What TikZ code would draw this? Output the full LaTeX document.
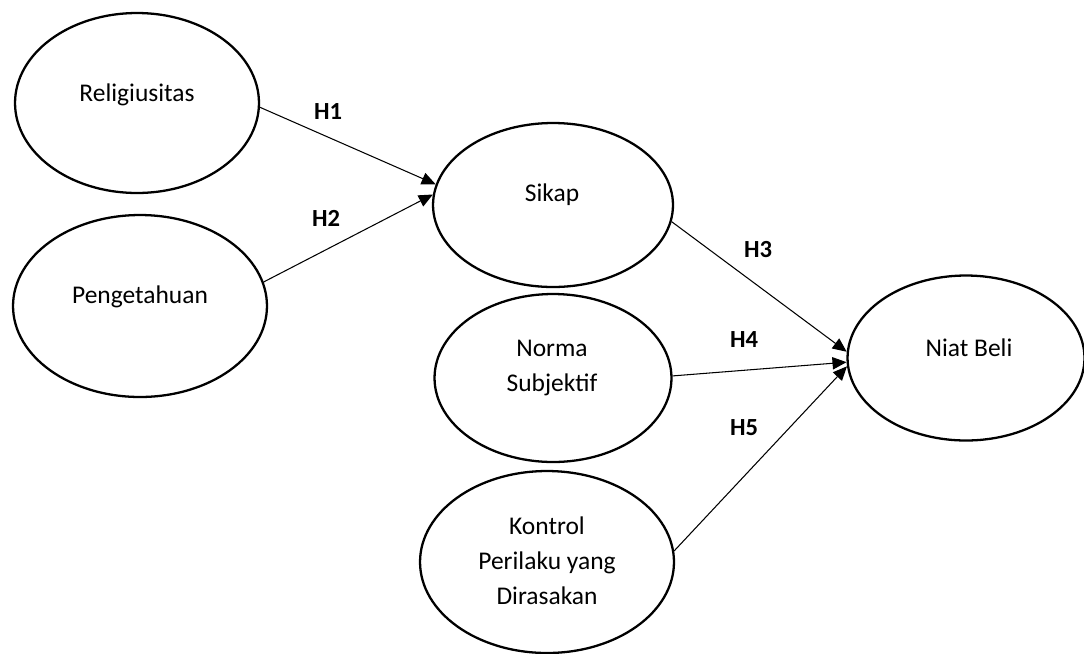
\documentclass[tikz,border=0pt]{standalone}
\usepackage{fontspec}
\setmainfont{Carlito}
\usetikzlibrary{shapes.geometric, arrows.meta}

\begin{document}
\begin{tikzpicture}[x=0.02cm, y=-0.02cm,
  konstruk/.style={ellipse, draw, line width=1.3pt, inner sep=0pt},
  teks/.style={align=center, font=\fontsize{14.5}{19.8}\selectfont},
  hipo/.style={font=\fontsize{14}{16}\selectfont\bfseries},
  panah/.style={-{Triangle[length=8pt, width=7pt]}, line width=0.6pt}]
\useasboundingbox (0,0) rectangle (1084,653);

% variabel
\node[konstruk, minimum width=4.88cm, minimum height=3.6cm] (relig) at (137,103) {};
\node[konstruk, minimum width=5.08cm, minimum height=3.64cm] (penget) at (140,306) {};
\node[konstruk, minimum width=4.8cm, minimum height=3.28cm] (sikap) at (553,205) {};
\node[konstruk, minimum width=4.74cm, minimum height=3.36cm] (norma) at (553,378) {};
\node[konstruk, minimum width=5.08cm, minimum height=3.64cm] (kontrol) at (547,562) {};
\node[konstruk, minimum width=4.74cm, minimum height=3.3cm] (niat) at (966,358) {};

\node[teks] (religT) at (137,95) {Religiusitas};
\node[teks] (pengetT) at (140,297) {Pengetahuan};
\node[teks] (sikapT) at (552,195) {Sikap};
\node[teks] (normaT) at (552,368) {Norma\\Subjektif};
\node[teks] (kontrolT) at (547,561) {Kontrol\\Perilaku yang\\Dirasakan};
\node[teks] (niatT) at (969,348) {Niat Beli};

% hipotesis
\draw[panah] (relig.-2.3) -- (sikap.170);
\draw[panah] (penget.11) -- (sikap.175.5);
\draw[panah] (sikap.-8.6) -- (niat.177.6);
\draw[panah] (norma.1) -- (niat.182.4);
\draw[panah] (kontrol.5.4) -- (niat.184.8);

\node[hipo] (h1) at (328,112) {H1};
\node[hipo] (h2) at (326,218) {H2};
\node[hipo] (h3) at (758,250) {H3};
\node[hipo] (h4) at (744,340) {H4};
\node[hipo] (h5) at (744,428) {H5};
\end{tikzpicture}
\end{document}
